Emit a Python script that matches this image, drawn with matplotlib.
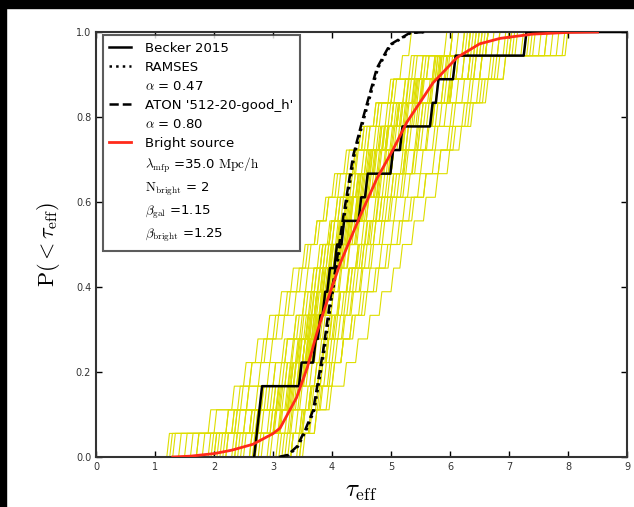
import numpy as np
import matplotlib
matplotlib.use("Agg")
import matplotlib.pyplot as plt
from matplotlib.lines import Line2D
from matplotlib.patches import Rectangle

plt.rcParams["mathtext.fontset"] = "cm"
plt.rcParams["font.family"] = ["DejaVu Sans"]

N_LOS = 18
RISER_DX = 0.045  # risers of the step CDFs are slightly slanted in the original

becker_tau = [2.68, 2.68, 2.68, 3.44, 3.68, 3.76, 3.84, 3.92, 4.04, 4.16,
              4.45, 4.56, 4.99, 5.15, 5.66, 5.76, 6.05, 7.25]

# mock samples from the bright source model (yellow step curves)
mock_samples = [
    [1.2, 2.2, 2.8, 3.1, 3.3, 3.45, 3.6, 3.7, 3.8, 3.95, 4.1, 4.25, 4.4, 4.6, 4.8, 5.0, 5.3, 5.9],
    [3.5, 3.7, 3.9, 4.0, 4.15, 4.3, 4.45, 4.6, 4.8, 5.0, 5.2, 5.45, 5.7, 5.95, 6.2, 6.45, 6.7, 7.95],
    [2.0, 2.6, 3.0, 3.25, 3.4, 3.55, 3.65, 3.75, 3.85, 3.95, 4.05, 4.2, 4.35, 4.5, 4.7, 4.95, 5.15, 5.3],
    [2.9, 3.3, 3.6, 3.8, 3.95, 4.1, 4.25, 4.4, 4.55, 4.7, 4.9, 5.1, 5.35, 5.6, 5.9, 6.2, 6.5, 7.2],
    [1.6, 2.4, 2.7, 3.0, 3.2, 3.4, 3.55, 3.7, 3.85, 4.0, 4.2, 4.4, 4.65, 4.9, 5.2, 5.5, 5.9, 6.6],
    [3.2, 3.45, 3.65, 3.8, 3.9, 4.0, 4.1, 4.25, 4.4, 4.55, 4.7, 4.85, 5.0, 5.2, 5.45, 5.75, 6.1, 6.8],
    [2.3, 2.9, 3.2, 3.4, 3.55, 3.7, 3.85, 4.0, 4.15, 4.3, 4.5, 4.7, 4.95, 5.2, 5.5, 5.85, 6.3, 7.5],
    [2.7, 3.0, 3.15, 3.3, 3.45, 3.6, 3.72, 3.85, 3.98, 4.12, 4.28, 4.45, 4.62, 4.8, 5.0, 5.25, 5.6, 6.2],
    [1.9, 2.5, 3.1, 3.35, 3.5, 3.62, 3.8, 3.95, 4.1, 4.3, 4.5, 4.75, 5.0, 5.3, 5.6, 6.0, 6.4, 7.0],
    [3.3, 3.5, 3.6, 3.75, 3.9, 4.05, 4.2, 4.35, 4.5, 4.65, 4.85, 5.05, 5.25, 5.5, 5.7, 5.95, 6.3, 6.6],
    [2.45, 2.75, 3.05, 3.3, 3.5, 3.68, 3.82, 3.95, 4.1, 4.25, 4.4, 4.55, 4.72, 4.9, 5.1, 5.4, 5.75, 6.5],
    [2.95, 3.25, 3.45, 3.62, 3.78, 3.92, 4.08, 4.25, 4.42, 4.6, 4.8, 5.0, 5.22, 5.45, 5.7, 6.0, 6.35, 7.1],
    [1.4, 2.0, 2.55, 2.9, 3.15, 3.35, 3.5, 3.65, 3.8, 3.92, 4.05, 4.2, 4.38, 4.55, 4.75, 5.0, 5.35, 6.0],
    [3.4, 3.62, 3.78, 3.92, 4.05, 4.18, 4.32, 4.48, 4.66, 4.85, 5.05, 5.28, 5.5, 5.75, 6.05, 6.35, 6.65, 7.6],
    [2.2, 2.65, 2.95, 3.2, 3.38, 3.52, 3.66, 3.8, 3.94, 4.08, 4.24, 4.42, 4.62, 4.84, 5.08, 5.36, 5.7, 6.3],
    [2.6, 3.1, 3.35, 3.5, 3.64, 3.76, 3.9, 4.04, 4.2, 4.38, 4.58, 4.78, 5.0, 5.25, 5.55, 5.85, 6.2, 6.9],
    [3.05, 3.28, 3.42, 3.56, 3.7, 3.84, 3.98, 4.12, 4.26, 4.42, 4.58, 4.76, 4.96, 5.18, 5.42, 5.68, 6.0, 6.45],
    [1.8, 2.35, 2.85, 3.15, 3.32, 3.48, 3.62, 3.76, 3.9, 4.06, 4.22, 4.4, 4.58, 4.78, 5.0, 5.26, 5.55, 6.1],
    [3.45, 3.6, 3.72, 3.86, 4.0, 4.16, 4.3, 4.46, 4.62, 4.8, 4.98, 5.16, 5.36, 5.58, 5.82, 6.1, 6.5, 7.35],
    [2.5, 2.95, 3.22, 3.42, 3.58, 3.72, 3.86, 3.98, 4.12, 4.26, 4.42, 4.6, 4.8, 5.02, 5.26, 5.52, 5.85, 6.7],
    [2.8, 3.12, 3.32, 3.48, 3.6, 3.74, 3.88, 4.02, 4.18, 4.34, 4.52, 4.72, 4.92, 5.14, 5.38, 5.66, 6.05, 6.6],
    [2.15, 2.8, 3.08, 3.28, 3.44, 3.58, 3.7, 3.84, 3.98, 4.14, 4.3, 4.48, 4.68, 4.9, 5.14, 5.42, 5.78, 6.4],
    [3.15, 3.38, 3.55, 3.7, 3.84, 3.96, 4.1, 4.24, 4.4, 4.56, 4.74, 4.94, 5.16, 5.4, 5.66, 5.96, 6.3, 7.05],
    [2.35, 3.0, 3.26, 3.44, 3.56, 3.68, 3.78, 3.9, 4.02, 4.16, 4.32, 4.5, 4.7, 4.92, 5.16, 5.44, 5.8, 6.25],
    [2.65, 3.02, 3.24, 3.4, 3.54, 3.66, 3.8, 3.94, 4.08, 4.22, 4.38, 4.56, 4.76, 4.98, 5.22, 5.5, 5.92, 7.7],
    [1.95, 2.7, 3.06, 3.26, 3.42, 3.56, 3.7, 3.82, 3.96, 4.1, 4.26, 4.44, 4.64, 4.86, 5.1, 5.38, 5.72, 6.35],
    [3.25, 3.48, 3.62, 3.76, 3.88, 4.02, 4.16, 4.3, 4.46, 4.62, 4.8, 5.0, 5.2, 5.42, 5.68, 5.98, 6.4, 6.95],
    [2.75, 3.08, 3.28, 3.44, 3.58, 3.7, 3.82, 3.96, 4.1, 4.24, 4.4, 4.58, 4.78, 5.0, 5.24, 5.5, 5.82, 6.55],
    [1.25, 2.3, 2.9, 3.2, 3.4, 3.55, 3.7, 3.85, 3.95, 4.1, 4.3, 4.45, 4.6, 4.85, 5.1, 5.4, 5.8, 6.3],
    [2.05, 2.95, 3.3, 3.45, 3.6, 3.72, 3.8, 3.95, 4.15, 4.4, 4.55, 4.8, 5.0, 5.25, 5.5, 5.9, 6.2, 7.0],
    [2.6, 3.1, 3.25, 3.5, 3.62, 3.8, 3.98, 4.1, 4.25, 4.5, 4.75, 4.9, 5.2, 5.45, 5.75, 6.0, 6.5, 7.9],
    [2.2, 2.7, 3.0, 3.3, 3.5, 3.6, 3.7, 3.8, 3.9, 4.0, 4.2, 4.35, 4.55, 4.7, 4.95, 5.2, 5.5, 6.0],
    [3.3, 3.45, 3.6, 3.7, 3.82, 3.95, 4.1, 4.3, 4.5, 4.7, 4.95, 5.2, 5.4, 5.7, 6.0, 6.3, 6.9, 7.6],
    [1.7, 2.5, 3.05, 3.35, 3.5, 3.65, 3.78, 3.9, 4.05, 4.2, 4.38, 4.62, 4.88, 5.05, 5.35, 5.65, 6.1, 6.6],
    [2.35, 3.2, 3.38, 3.52, 3.66, 3.74, 3.88, 4.0, 4.12, 4.28, 4.48, 4.66, 4.86, 5.1, 5.32, 5.62, 5.95, 6.4],
    [1.5, 2.6, 3.12, 3.34, 3.5, 3.62, 3.74, 3.88, 4.02, 4.16, 4.32, 4.52, 4.7, 4.92, 5.16, 5.48, 5.82, 6.45],
    [1.3, 1.9, 2.3, 2.5, 2.7, 2.9, 3.1, 3.3, 3.5, 3.7, 3.9, 4.1, 4.35, 4.6, 4.9, 5.2, 5.6, 6.2],
    [2.1, 2.3, 2.45, 2.6, 2.8, 3.0, 3.2, 3.4, 3.55, 3.7, 3.85, 4.0, 4.2, 4.45, 4.7, 5.0, 5.4, 6.0],
    [3.3, 3.6, 3.8, 4.0, 4.15, 4.3, 4.5, 4.7, 4.9, 5.1, 5.3, 5.55, 5.8, 6.05, 6.3, 6.6, 6.9, 7.4],
    [3.1, 3.5, 3.75, 3.95, 4.15, 4.35, 4.55, 4.75, 4.95, 5.15, 5.35, 5.55, 5.8, 6.0, 6.25, 6.5, 6.75, 7.8],
    [1.7, 2.2, 2.4, 2.6, 2.85, 3.05, 3.25, 3.45, 3.6, 3.75, 3.9, 4.05, 4.25, 4.5, 4.75, 5.05, 5.5, 6.5],
    [2.4, 2.6, 2.8, 3.0, 3.2, 3.35, 3.5, 3.65, 3.8, 3.95, 4.1, 4.3, 4.5, 4.75, 5.0, 5.3, 5.7, 6.3],
    [3.45, 3.7, 3.95, 4.2, 4.4, 4.6, 4.8, 5.0, 5.15, 5.35, 5.55, 5.75, 5.95, 6.15, 6.35, 6.55, 6.8, 7.3],
    [2.0, 2.35, 2.55, 2.75, 2.95, 3.15, 3.35, 3.55, 3.75, 3.95, 4.15, 4.35, 4.55, 4.8, 5.05, 5.35, 5.75, 6.8],
]

# bright source model CDF
bright_tau = [1.3, 1.6, 2.0, 2.3, 2.66, 3.0, 3.12, 3.4, 3.58, 3.74, 3.9, 4.14, 4.47,
              4.76, 5.03, 5.27, 5.71, 6.12, 6.5, 6.85, 7.4, 8.0, 8.5]
bright_cdf = [0.0, 0.002, 0.008, 0.016, 0.03, 0.055, 0.068, 0.14, 0.21, 0.29, 0.36, 0.456, 0.565,
              0.655, 0.722, 0.788, 0.88, 0.94, 0.972, 0.985, 0.995, 0.999, 1.0]

# ATON model CDF
aton_tau = [3.1, 3.25, 3.4, 3.55, 3.68, 3.85, 3.97, 4.08, 4.19, 4.36, 4.53, 4.76, 4.98, 5.32, 5.6]
aton_cdf = [0.0, 0.005, 0.024, 0.065, 0.11, 0.25, 0.37, 0.46, 0.565, 0.71, 0.8, 0.915, 0.97, 0.998, 1.0]

# RAMSES model CDF
ramses_tau = [3.12, 3.27, 3.42, 3.57, 3.7, 3.87, 3.99, 4.1, 4.21, 4.38, 4.55, 4.78, 5.0, 5.34, 5.6]
ramses_cdf = [0.0, 0.005, 0.024, 0.065, 0.11, 0.25, 0.37, 0.46, 0.565, 0.71, 0.8, 0.915, 0.97, 0.998, 1.0]

legend_labels = [
    "Becker 2015",
    "RAMSES",
    r"$\alpha$ = 0.47",
    "ATON '512-20-good_h'",
    r"$\alpha$ = 0.80",
    "Bright source",
    r"$\lambda_{\rm mfp}$ =35.0 $\rm Mpc/h$",
    r"$\rm N_{bright}$ = 2",
    r"$\beta_{\rm gal}$ =1.15",
    r"$\beta_{\rm bright}$ =1.25",
]


def _step_xy(values, dx=RISER_DX):
    """Step CDF with slightly slanted risers, ending on P=1 out to tau=9."""
    vals = np.sort(np.asarray(values, dtype=float))
    xs, ys = [vals[0]], [0.0]
    x_cur, y_prev = vals[0], 0.0
    for i, v in enumerate(vals):
        start = max(v, x_cur)
        xs.append(start)
        ys.append(y_prev)
        x_cur = start + dx
        y_prev = (i + 1) / N_LOS
        xs.append(x_cur)
        ys.append(y_prev)
    xs.append(9.0)
    ys.append(1.0)
    return np.array(xs), np.array(ys)


fig = plt.figure(figsize=(6.34, 5.07), dpi=100)
ax = fig.add_axes([0.1514, 0.0986, 0.8376, 0.8383])

for sample in mock_samples:
    x, y = _step_xy(sample)
    ax.plot(x, y, color="#dede00", lw=0.8, zorder=1)

bx, by = _step_xy(becker_tau)
ax.plot(bx, by, color="black", lw=1.8, zorder=3)
ax.plot(ramses_tau, ramses_cdf, color="black", ls=":", lw=1.8, zorder=3)
ax.plot(aton_tau, aton_cdf, color="black", ls="--", lw=1.8, zorder=3)
ax.plot(bright_tau, bright_cdf, color="#ff2a1a", lw=2.0, zorder=4)

ax.set_xlim(0, 9)
ax.set_ylim(0, 1)
ax.set_xticks(np.arange(0, 10, 1))
ax.set_yticks(np.arange(0, 1.01, 0.2))
ax.tick_params(direction="in", length=4, width=1, top=True, right=True,
               labelsize=7, labelcolor="#333333")
for spine in ax.spines.values():
    spine.set_linewidth(1.5)
    spine.set_color("#333333")

ax.set_xlabel(r"$\tau_{\rm eff}$", fontsize=18, labelpad=5)
ax.set_ylabel(r"$\mathrm{P}(<\tau_{\rm eff})$", fontsize=16, labelpad=10)

blank = Line2D([], [], color="none")
handles = [
    Line2D([], [], color="black", lw=1.8),
    Line2D([], [], color="black", ls=":", lw=1.8),
    blank,
    Line2D([], [], color="black", ls="--", lw=1.8),
    blank,
    Line2D([], [], color="#ff2a1a", lw=2.0),
    blank, blank, blank, blank,
]
leg = ax.legend(handles, legend_labels, loc="upper left", bbox_to_anchor=(0.008, 0.998),
                borderaxespad=0.2, fontsize=9.5, frameon=True, fancybox=False,
                labelspacing=0.45, handlelength=1.6, handletextpad=1.1, borderpad=0.5)
leg.get_frame().set_edgecolor("#333333")
leg.get_frame().set_linewidth(1.5)

# black border strips of the original screenshot
fig.patches.append(Rectangle((0, 1 - 8 / 507), 1, 8 / 507, transform=fig.transFigure,
                             color="black", zorder=10))
fig.patches.append(Rectangle((0, 0), 6 / 634, 1, transform=fig.transFigure,
                             color="black", zorder=10))

fig.savefig("out.png", dpi=100)
